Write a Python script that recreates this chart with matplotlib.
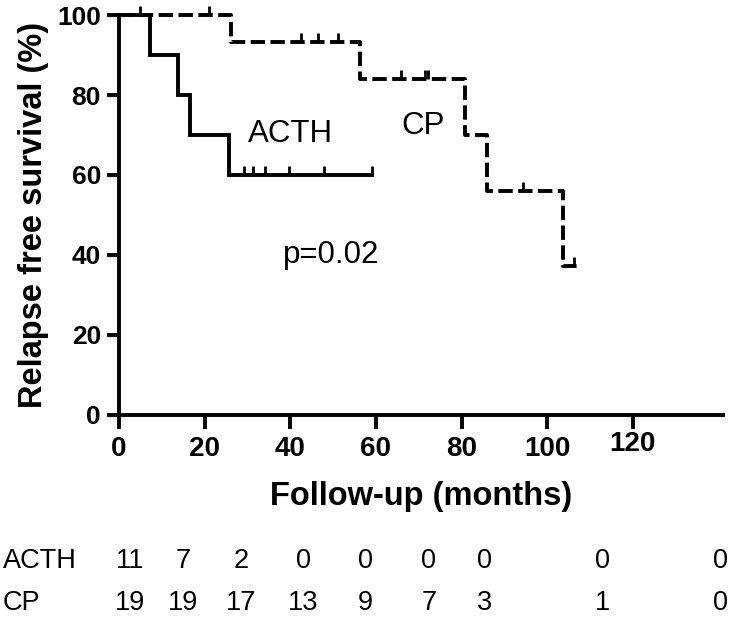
import matplotlib
matplotlib.use("Agg")
import matplotlib.pyplot as plt
import matplotlib.transforms as mtransforms

# Kaplan-Meier steps (months, % relapse free)
acth_times = [0, 7.3, 13.7, 16.5, 25.8]
acth_surv = [100, 90, 80, 70, 60]
acth_end = 59.2
acth_censor_t = [4.8, 29.3, 31.4, 34.0, 39.8, 47.8, 59.2]
acth_censor_s = [100, 60, 60, 60, 60, 60, 60]

cp_times = [0, 26.2, 56.2, 80.7, 85.9, 103.6]
cp_surv = [100, 93.3, 84, 70, 56, 37.3]
cp_end = 108.0
cp_censor_t = [21.0, 42.6, 46.4, 51.1, 65.9, 71.4, 72.1, 94.3, 106.2]
cp_censor_s = [100, 93.3, 93.3, 93.3, 84, 84, 84, 56, 37.3]

x_ticks = [0, 20, 40, 60, 80, 100, 120]
y_ticks = [0, 20, 40, 60, 80, 100]

# numbers at risk
risk_groups = ["ACTH", "CP"]
risk_acth = [11, 7, 2, 0, 0, 0, 0, 0, 0]
risk_cp = [19, 19, 17, 13, 9, 7, 3, 1, 0]
risk_cols = [2.5, 15.0, 28.5, 43.0, 57.5, 72.4, 85.3, 113.0, 140.5]

plt.rcParams['font.family'] = ['Liberation Sans', 'DejaVu Sans']

fig = plt.figure(figsize=(7.36, 6.33), dpi=100)
ax = fig.add_axes([0.1617, 0.3444, 0.8202, 0.6319])


def km_line(times, surv, end):
    xs = list(times) + [end]
    ys = list(surv) + [surv[-1]]
    return xs, ys


xs, ys = km_line(acth_times, acth_surv, acth_end)
ax.step(xs, ys, where='post', color='black', lw=2.8, clip_on=False,
        solid_joinstyle='miter')
ax.vlines(acth_censor_t, acth_censor_s, [s + 2.2 for s in acth_censor_s],
          color='black', lw=2.0, clip_on=False)

xs, ys = km_line(cp_times, cp_surv, cp_end)
ax.step(xs, ys, where='post', color='black', lw=2.8, clip_on=False,
        dashes=(3.7, 1.4))
ax.vlines(cp_censor_t, cp_censor_s, [s + 2.2 for s in cp_censor_s],
          color='black', lw=2.0, clip_on=False)

ax.text(40.0, 70.2, "ACTH", fontsize=22.5, ha='center', va='center')
ax.text(71.0, 72.3, "CP", fontsize=22.5, ha='center', va='center')
ax.text(49.6, 40.0, "p=0.02", fontsize=22.5, ha='center', va='center')

ax.set_xlim(0, 141)
ax.set_ylim(0, 100)
ax.set_xticks(x_ticks)
ax.set_yticks(y_ticks)
for lab in ax.get_xticklabels() + ax.get_yticklabels():
    lab.set_fontweight('bold')
ax.tick_params(axis='x', labelsize=20, length=10, width=2.8, direction='out', pad=5)
ax.tick_params(axis='y', labelsize=19, length=9, width=2.8, direction='out', pad=4)
# the last x label sits a little higher in the original
last = ax.get_xticklabels()[-1]
last.set_transform(last.get_transform() + mtransforms.ScaledTranslation(0, 5 / 100, fig.dpi_scale_trans))
for side in ['top', 'right']:
    ax.spines[side].set_visible(False)
for side in ['left', 'bottom']:
    ax.spines[side].set_linewidth(2.8)
ax.set_xlabel("Follow-up (months)", fontsize=23.5, fontweight='bold', labelpad=14)
ax.set_ylabel("Relapse free survival (%)", fontsize=23.5, fontweight='bold', labelpad=6)

# at-risk table below the axis
trans = mtransforms.blended_transform_factory(ax.transData, fig.transFigure)
row_y = [1 - 561 / 633, 1 - 603 / 633]
for row, (name, vals) in enumerate(zip(risk_groups, [risk_acth, risk_cp])):
    fig.text(3 / 736, row_y[row], name, fontsize=19.5, ha='left', va='center')
    for xc, v in zip(risk_cols, vals):
        ax.text(xc, row_y[row], str(v), fontsize=19.5, ha='center', va='center',
                transform=trans, clip_on=False)

fig.savefig("out.png", dpi=100)
